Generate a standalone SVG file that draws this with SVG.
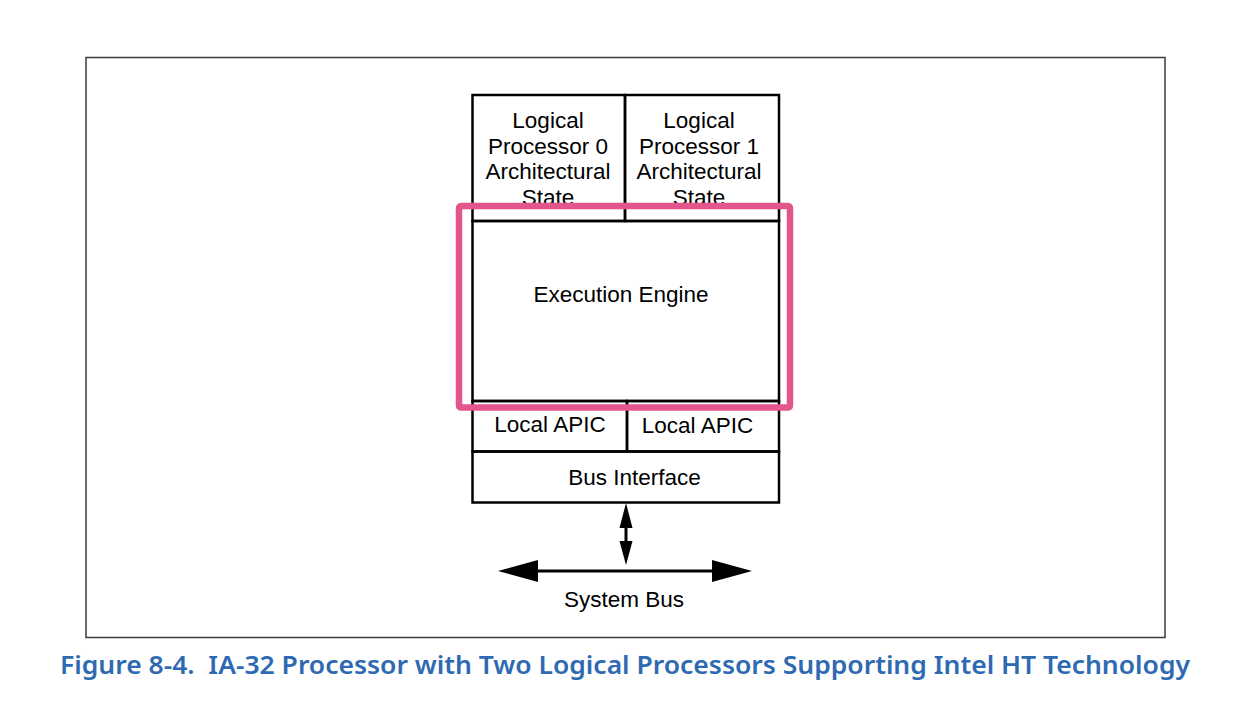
<svg xmlns="http://www.w3.org/2000/svg" width="1242" height="710" viewBox="0 0 1242 710">
<defs>
<style>
.box{fill:none;stroke:#000;stroke-width:2.5}
.t{font-family:"Liberation Sans",Arial,sans-serif;font-size:22.5px;fill:#000;text-anchor:middle}
.ah{fill:#000}
.ln{stroke:#000;stroke-width:3}
</style>
<clipPath id="topclip"><rect x="472" y="95" width="307" height="110"/></clipPath>
</defs>
<rect width="1242" height="710" fill="#fff"/>
<rect x="86" y="57.5" width="1079" height="580" fill="none" stroke="#3a3a3a" stroke-width="1.5"/>
<g id="lp0">
<rect class="box" x="472.5" y="95" width="152.5" height="126"/>
<g clip-path="url(#topclip)">
<text class="t" x="548" y="128">Logical</text>
<text class="t" x="548" y="153.5">Processor 0</text>
<text class="t" x="548" y="179">Architectural</text>
<text class="t" x="548" y="204.5">State</text>
</g>
</g>
<g id="lp1">
<rect class="box" x="625" y="95" width="154" height="126"/>
<g clip-path="url(#topclip)">
<text class="t" x="699" y="128">Logical</text>
<text class="t" x="699" y="153.5">Processor 1</text>
<text class="t" x="699" y="179">Architectural</text>
<text class="t" x="699" y="204.5">State</text>
</g>
</g>
<g id="exec">
<rect class="box" x="472.5" y="221" width="306.5" height="180"/>
<text class="t" x="621" y="302">Execution Engine</text>
</g>
<g id="apic0">
<rect class="box" x="472.5" y="401" width="154.5" height="50.5"/>
<text class="t" x="550" y="432">Local APIC</text>
</g>
<g id="apic1">
<rect class="box" x="627" y="401" width="152" height="50.5"/>
<text class="t" x="697.5" y="433">Local APIC</text>
</g>
<g id="bus">
<rect class="box" x="472.5" y="451.5" width="306.5" height="51"/>
<text class="t" x="634.5" y="485">Bus Interface</text>
</g>
<g id="highlight">
<rect x="459" y="206" width="331" height="201.5" rx="2" fill="none" stroke="#e2568b" stroke-width="6.5"/>
</g>
<g id="connectors">
<line class="ln" x1="626" y1="526" x2="626" y2="543"/>
<polygon class="ah" points="626,503 619.5,528 632.5,528"/>
<polygon class="ah" points="626,565 619.5,541 632.5,541"/>
<line class="ln" x1="536" y1="571" x2="714" y2="571"/>
<polygon class="ah" points="498,571 538,560 538,582"/>
<polygon class="ah" points="752,571 712,560 712,582"/>
</g>
<text class="t" x="624" y="607">System Bus</text>
<text x="625" y="674" font-family="'Noto Sans','DejaVu Sans',sans-serif" font-weight="600" font-size="26" fill="#2e6ab2" text-anchor="middle" textLength="1130" lengthAdjust="spacingAndGlyphs" xml:space="preserve">Figure 8-4.  IA-32 Processor with Two Logical Processors Supporting Intel HT Technology</text>
</svg>
